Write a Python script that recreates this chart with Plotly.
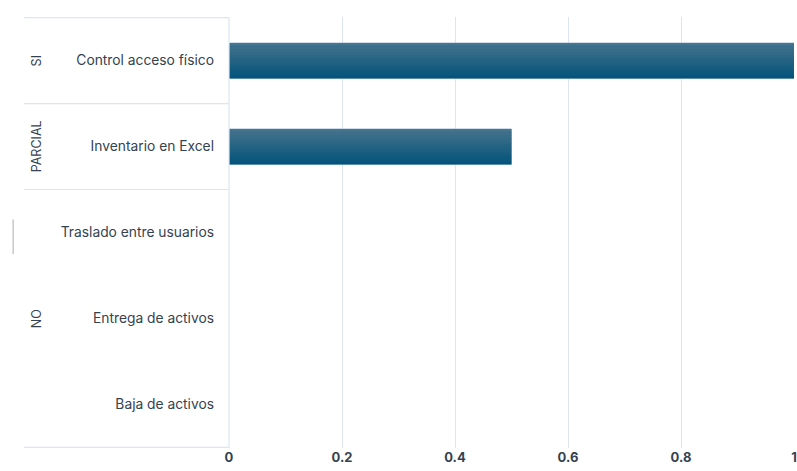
import plotly.graph_objects as go

categories = ["Control acceso físico", "Inventario en Excel", "Traslado entre usuarios",
              "Entrega de activos", "Baja de activos"]
groups = ["SI", "PARCIAL", "NO", "NO", "NO"]
values = [1, 0.5, 0, 0, 0]
x_ticks = [0, 0.2, 0.4, 0.6, 0.8, 1]
x_tick_labels = ["0", "0.2", "0.4", "0.6", "0.8", "1"]

text_color = "#34434f"
grid_color = "#dbe6f2"
font_family = "Inter, Open Sans, sans-serif"

bar_w = 0.41
fig = go.Figure()
# outline bar
fig.add_trace(go.Bar(
    x=values, y=categories, orientation="h", width=bar_w,
    marker=dict(color="#175f84", line=dict(color="#a9c4d8", width=[1 if v > 0 else 0 for v in values])),
    showlegend=False, hoverinfo="x+y",
))
# vertical gradient stripes (top light -> bottom dark)
top_rgb = (67, 114, 140)
bot_rgb = (5, 84, 123)
n_str = 12
sw = bar_w / n_str
for k in range(n_str):
    t = k / (n_str - 1)
    c = tuple(round(top_rgb[m] + (bot_rgb[m] - top_rgb[m]) * t) for m in range(3))
    fig.add_trace(go.Bar(
        x=values, y=categories, orientation="h", width=sw * 1.05,
        offset=-bar_w / 2 + k * sw + 0.003,
        marker=dict(color="rgb(%d,%d,%d)" % c, line=dict(width=0)),
        showlegend=False, hoverinfo="skip",
    ))

# group labels and dividers
shapes = []
annotations = []
i = 0
n = len(categories)
boundaries = [-0.5]
while i < n:
    j = i
    while j + 1 < n and groups[j + 1] == groups[i]:
        j += 1
    annotations.append(dict(
        x=-0.357, xref="paper", y=(i + j) / 2, yref="y", text=groups[i],
        textangle=-90, showarrow=False,
        font=dict(family=font_family, size=12.5, color=text_color),
    ))
    boundaries.append(j + 0.5)
    i = j + 1

for b in boundaries:
    shapes.append(dict(type="line", xref="paper", x0=-0.363, x1=0, yref="y", y0=b, y1=b,
                       line=dict(color=grid_color, width=1.2)))
shapes.append(dict(type="line", xref="paper", x0=0, x1=0, yref="paper", y0=0, y1=1,
                   line=dict(color=grid_color, width=1.2)))
# faint mark at the left edge
shapes.append(dict(type="line", xref="paper", x0=-0.382, x1=-0.382, yref="y", y0=1.85, y1=2.25,
                   line=dict(color="#c8c8c8", width=1.5)))

fig.update_layout(
    width=797, height=471,
    margin=dict(l=229, r=0, t=17, b=23),
    paper_bgcolor="white", plot_bgcolor="white",
    font=dict(family=font_family, color=text_color, size=13.8),
    shapes=shapes, annotations=annotations,
    barmode="overlay",
    xaxis=dict(
        range=[0, 1], tickvals=x_ticks, ticktext=x_tick_labels,
        showgrid=True, gridcolor=grid_color, gridwidth=1,
        zeroline=False, showline=False, ticklabeloverflow="allow",
        tickfont=dict(family=font_family, size=13, color=text_color, weight="bold"),
        fixedrange=True,
    ),
    yaxis=dict(
        categoryorder="array", categoryarray=categories, autorange="reversed",
        showgrid=False, zeroline=False, showline=False,
        ticklabelstandoff=14,
        tickfont=dict(family=font_family, size=13.8, color=text_color),
    ),
)

fig.write_html("out.html")
